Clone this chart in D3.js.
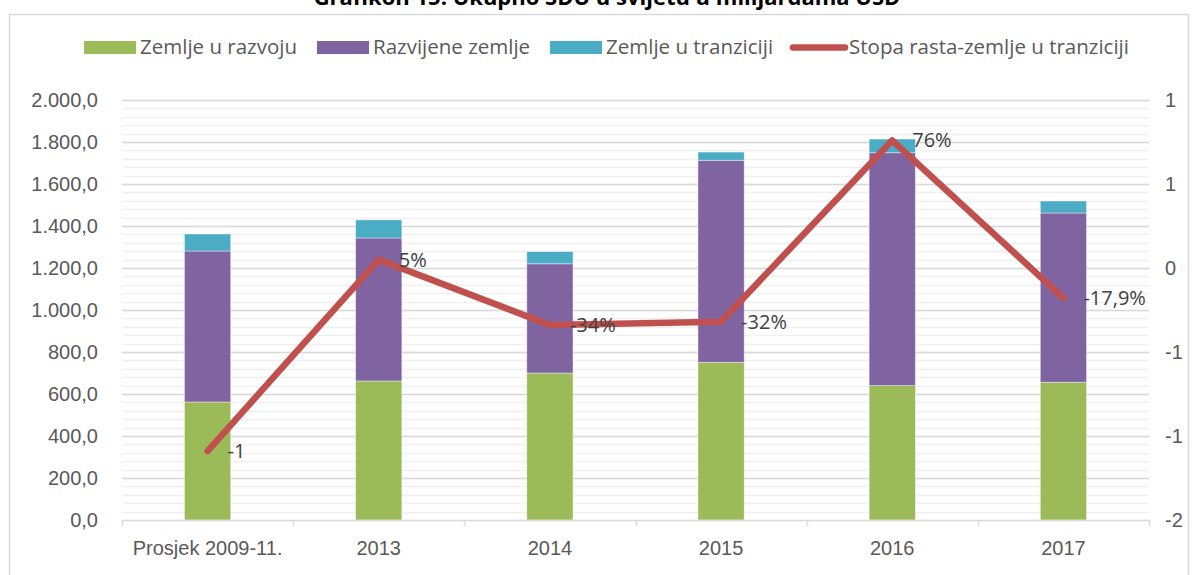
<!DOCTYPE html>
<html>
<head>
<meta charset="utf-8">
<script src="https://cdn.jsdelivr.net/npm/d3@7"></script>
<style>
  body { margin: 0; background: #fff; }
  svg { font-family: "Open Sans", sans-serif; }
</style>
</head>
<body>
<div class="svg_container"></div>
<script>
// Chart data
var categories = ["Prosjek 2009-11.", "2013", "2014", "2015", "2016", "2017"];
var razvoj     = [562, 662, 700, 751, 640, 656];
var razvijene  = [719, 681, 520, 962, 1109, 806];
var tranzicija = [81, 86, 58, 39, 65, 57];
var stopa      = [-1.09, 0.05, -0.34, -0.32, 0.76, -0.179];
var stopaLabels = ["-1", "5%", "-34%", "-32%", "76%", "-17,9%"];
var seriesNames = ["Zemlje u razvoju", "Razvijene zemlje", "Zemlje u tranziciji", "Stopa rasta-zemlje u tranziciji"];
var colors = ["#9BBB59", "#8064A2", "#4BACC6", "#C0504D"];

var W = 1193, H = 575;
var margin = {left: 122, right: 1149, top: 100, bottom: 520};

var svg = d3.select("div.svg_container")
    .append("svg")
        .attr("width", W)
        .attr("height", H);

// outer frame
svg.append("rect")
    .attr("x", 9.5).attr("y", 14.5)
    .attr("width", W - 14).attr("height", H - 10)
    .attr("fill", "none")
    .attr("stroke", "#d9d9d9")
    .attr("stroke-width", 1.5);

// title (cut off at the top, as in the source)
svg.append("text")
    .attr("x", 607)
    .attr("y", 5)
    .attr("text-anchor", "middle")
    .style("font-weight", "bold")
    .style("font-size", "22px")
    .style("fill", "#000")
    .text("Grafikon 15. Ukupno SDU u svijetu u milijardama USD");

var x = d3.scaleBand()
    .domain(categories)
    .range([margin.left, margin.right])
    .paddingInner(0.73)
    .paddingOuter(0.365);

var xLine = d3.scaleBand().domain(categories).range([margin.left, margin.right]);

var y = d3.scaleLinear().domain([0, 2000]).range([margin.bottom, margin.top]);
var y2 = d3.scaleLinear().domain([-1.5, 1.0]).range([margin.bottom, margin.top]);

var loc = d3.formatLocale({decimal: ",", thousands: ".", grouping: [3], currency: ["", ""]});
var fmtLeft = loc.format(",.1f");
var fmtRight = function(v) { return String(Math.sign(v) * Math.round(Math.abs(v) + 1e-9)); };

// minor gridlines
svg.append("g").selectAll("line")
    .data(d3.range(0, 2001, 40))
    .enter().append("line")
        .attr("x1", margin.left).attr("x2", margin.right)
        .attr("y1", function(d) { return Math.round(y(d)) + 0.5; })
        .attr("y2", function(d) { return Math.round(y(d)) + 0.5; })
        .attr("stroke", "#f0f0f0")
        .attr("stroke-width", 1.5);

// major gridlines
svg.append("g").selectAll("line")
    .data(y.ticks(10).filter(function(d) { return d > 0; }))
    .enter().append("line")
        .attr("x1", margin.left).attr("x2", margin.right)
        .attr("y1", function(d) { return Math.round(y(d)) + 0.5; })
        .attr("y2", function(d) { return Math.round(y(d)) + 0.5; })
        .attr("stroke", "#d9d9d9")
        .attr("stroke-width", 1.5);

// left axis labels
var yAxis = d3.axisLeft(y).ticks(10).tickFormat(fmtLeft).tickSize(0).tickPadding(24);
var gy = svg.append("g").attr("transform", "translate(" + margin.left + ",0)").call(yAxis);
gy.select(".domain").remove();
gy.selectAll("text").style("font-size", "20px").style("fill", "#595959").style("font-family", null);

// right axis labels
var y2Axis = d3.axisRight(y2).tickValues(d3.range(-1.5, 1.01, 0.5)).tickFormat(fmtRight).tickSize(0).tickPadding(16);
var gy2 = svg.append("g").attr("transform", "translate(" + margin.right + ",0)").call(y2Axis);
gy2.select(".domain").remove();
gy2.selectAll("text").style("font-size", "20px").style("fill", "#595959").style("font-family", null);

// stacked bars
var rows = categories.map(function(c, i) {
    return {cat: c, razvoj: razvoj[i], razvijene: razvijene[i], tranzicija: tranzicija[i]};
});
var stack = d3.stack().keys(["razvoj", "razvijene", "tranzicija"])(rows);

svg.append("g").selectAll("g")
    .data(stack)
    .enter().append("g")
        .attr("fill", function(d, i) { return colors[i]; })
    .selectAll("rect")
    .data(function(d) { return d; })
    .enter().append("rect")
        .attr("x", function(d) { return x(d.data.cat); })
        .attr("width", x.bandwidth())
        .attr("y", function(d) { return y(d[1]); })
        .attr("height", function(d) { return y(d[0]) - y(d[1]); })
        .attr("stroke", "#ffffff")
        .attr("stroke-opacity", 0.5)
        .attr("stroke-width", 0.8);

// x axis
var xAxis = d3.axisBottom(xLine).tickSize(0).tickPadding(21);
var gx = svg.append("g").attr("transform", "translate(0," + margin.bottom + ")").call(xAxis);
gx.select(".domain").attr("stroke", "#d9d9d9").attr("stroke-width", 1.5);
gx.selectAll("text").style("font-size", "20px").style("fill", "#595959").style("font-family", null);
svg.append("g").selectAll("line")
    .data(categories.concat(["end"]))
    .enter().append("line")
        .attr("x1", function(d, i) { return Math.round(margin.left + i * xLine.step()) + 0.5; })
        .attr("x2", function(d, i) { return Math.round(margin.left + i * xLine.step()) + 0.5; })
        .attr("y1", margin.bottom).attr("y2", margin.bottom + 6)
        .attr("stroke", "#d9d9d9")
        .attr("stroke-width", 1.5);

// growth-rate line
var line = d3.line()
    .x(function(d, i) { return xLine(categories[i]) + xLine.bandwidth() / 2; })
    .y(function(d) { return y2(d); });

svg.append("path")
    .datum(stopa)
    .attr("d", line)
    .attr("fill", "none")
    .attr("stroke", colors[3])
    .attr("stroke-width", 6.5)
    .attr("stroke-linejoin", "round")
    .attr("stroke-linecap", "round");

// data labels
svg.append("g").selectAll("text")
    .data(stopa)
    .enter().append("text")
        .attr("x", function(d, i) { return xLine(categories[i]) + xLine.bandwidth() / 2 + 20; })
        .attr("y", function(d) { return y2(d) + 7; })
        .style("font-size", "20px")
        .style("fill", "#404040")
        .text(function(d, i) { return stopaLabels[i]; });

// legend
var legendX = [84, 317, 550, 790];
var legend = svg.append("g").attr("class", "legend");
seriesNames.forEach(function(name, i) {
    if (i < 3) {
        legend.append("rect")
            .attr("x", legendX[i]).attr("y", 41)
            .attr("width", 52).attr("height", 13)
            .attr("fill", colors[i]);
    } else {
        legend.append("line")
            .attr("x1", legendX[i] + 3).attr("x2", legendX[i] + 55)
            .attr("y1", 47.5).attr("y2", 47.5)
            .attr("stroke", colors[i])
            .attr("stroke-width", 6.5)
            .attr("stroke-linecap", "round");
    }
    legend.append("text")
        .attr("x", legendX[i] + (i < 3 ? 56 : 59))
        .attr("y", 54)
        .style("font-size", "20.5px")
        .style("fill", "#595959")
        .text(name);
});
</script>
</body>
</html>
